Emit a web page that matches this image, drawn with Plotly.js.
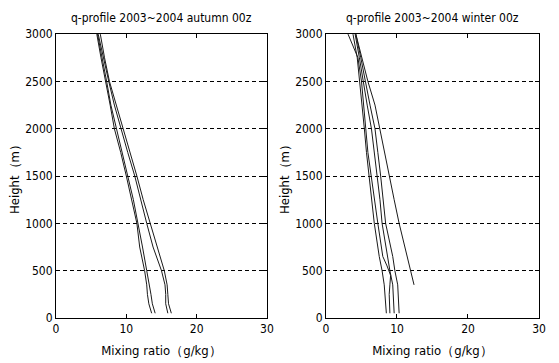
<!DOCTYPE html>
<html><head><meta charset="utf-8">
<script src="https://cdn.plot.ly/plotly-3.0.1.min.js"></script>
<style>html,body{margin:0;padding:0;background:#fff;}#chart{width:559px;height:363px;}</style>
</head><body><div id="chart"></div>
<script>
// Autumn profiles (height m, mixing ratio g/kg)
const autumnHeights = [50,150,250,350,500,750,1000,1250,1500,1750,2000,2250,2500,2750,3000];
const autumnA1 = [14.1,13.7,13.5,13.3,12.9,12.3,11.7,11.0,10.2,9.4,8.5,7.8,7.2,6.5,5.9];
const autumnA2 = [13.6,13.2,13.0,12.9,12.6,11.9,11.5,10.8,10.0,9.2,8.3,7.7,7.0,6.4,5.8];
const autumnB1 = [16.4,16.0,15.9,15.8,15.4,14.4,13.3,12.4,11.5,10.5,9.5,8.6,7.6,6.9,6.3];
const autumnB2 = [15.9,15.6,15.6,15.5,15.0,13.8,12.9,12.1,11.2,10.2,9.2,8.3,7.5,6.7,6.0];

// Winter profiles
const winterHeights = [50,150,250,350,500,650,1000,1250,1500,1750,2000,2250,2500,2750,3000];
const winterW1 = [8.5,8.4,8.3,8.2,7.9,7.5,6.8,6.4,6.0,5.7,5.4,5.1,4.8,4.4,3.8];
const winterW3 = [9.6,9.5,9.5,9.4,9.0,8.7,7.9,7.6,7.2,6.8,6.4,5.8,5.3,4.7,4.1];
const winterW4 = [10.3,10.2,10.2,10.1,9.7,9.4,8.4,8.1,7.7,7.3,6.9,6.2,5.6,4.9,4.2];
const winterW2Heights = [50,150,250,350,450,550,650,1000,1250,1500,1750,2000,2250,2500,2750,3000];
const winterW2 = [9.0,8.9,8.9,9.0,9.1,8.6,8.0,7.3,6.8,6.3,5.9,5.6,5.3,5.0,4.5,3.1];
const winterW5Heights = [350,500,650,800,1000,1250,1500,1750,2000,2250,2500,2750,3000];
const winterW5 = [12.4,11.9,11.4,11.0,10.3,9.6,8.9,8.3,7.6,6.9,5.9,5.0,4.2];

const titles = ["q-profile 2003~2004 autumn 00z", "q-profile 2003~2004 winter 00z"];
const xTitle = "Mixing ratio（g/kg）";
const yTitle = "Height（m）";
const xTicks = [0,10,20,30];
const yTicks = [0,500,1000,1500,2000,2500,3000];

const FONT = "Liberation Sans Narrow, Arial Narrow, DejaVu Sans Condensed, sans-serif";
const lineStyle = {color:'#1a1a1a', width:1};

const traces = [];
function addLine(x, y, xa, ya) {
  traces.push({x:x, y:y, xaxis:xa, yaxis:ya, type:'scatter', mode:'lines', line:lineStyle, hoverinfo:'skip', showlegend:false});
}
[autumnA1, autumnA2, autumnB1, autumnB2].forEach(s => addLine(s, autumnHeights, 'x', 'y'));
addLine(winterW1, winterHeights, 'x2', 'y2');
addLine(winterW2, winterW2Heights, 'x2', 'y2');
addLine(winterW3, winterHeights, 'x2', 'y2');
addLine(winterW4, winterHeights, 'x2', 'y2');
addLine(winterW5, winterW5Heights, 'x2', 'y2');

function xaxis(domain, anchor) {
  return {domain:domain, anchor:anchor, range:[0,30], tickvals:xTicks, ticktext:xTicks.map(String),
    ticks:'inside', ticklen:4, tickcolor:'#000', showline:true, linecolor:'#000', linewidth:1, mirror:'ticks',
    showgrid:false, zeroline:false, tickfont:{family:FONT, size:12, color:'#000'},
    title:{text:xTitle, font:{family:FONT, size:13, color:'#000'}, standoff:10}};
}
function yaxis(domain, anchor) {
  return {domain:domain, anchor:anchor, range:[0,3000], tickvals:yTicks, ticktext:yTicks.map(String),
    ticks:'inside', ticklen:4, tickcolor:'#000', showline:true, linecolor:'#000', linewidth:1, mirror:'ticks',
    showgrid:true, gridcolor:'#000', gridwidth:1, griddash:'4px,3px', zeroline:false,
    tickfont:{family:FONT, size:12, color:'#000'},
    title:{text:yTitle, font:{family:FONT, size:13, color:'#000'}, standoff:2}};
}

const yDom = [0.124, 0.906];
const layout = {
  width:559, height:363, margin:{l:0, r:0, t:0, b:0}, paper_bgcolor:'#fff', plot_bgcolor:'#fff',
  showlegend:false,
  xaxis: xaxis([0.1002, 0.4776], 'y'),
  yaxis: yaxis(yDom, 'x'),
  xaxis2: xaxis([0.5832, 0.9642], 'y2'),
  yaxis2: yaxis(yDom, 'x2'),
  annotations: [
    {text:titles[0], xref:'paper', yref:'paper', x:(0.1002+0.4776)/2, y:1-18/363, xanchor:'center', yanchor:'middle', showarrow:false, font:{family:FONT, size:12, color:'#000'}},
    {text:titles[1], xref:'paper', yref:'paper', x:(0.5832+0.9642)/2, y:1-18/363, xanchor:'center', yanchor:'middle', showarrow:false, font:{family:FONT, size:12, color:'#000'}}
  ]
};
Plotly.newPlot('chart', traces, layout, {staticPlot:true, displayModeBar:false});
</script></body></html>
